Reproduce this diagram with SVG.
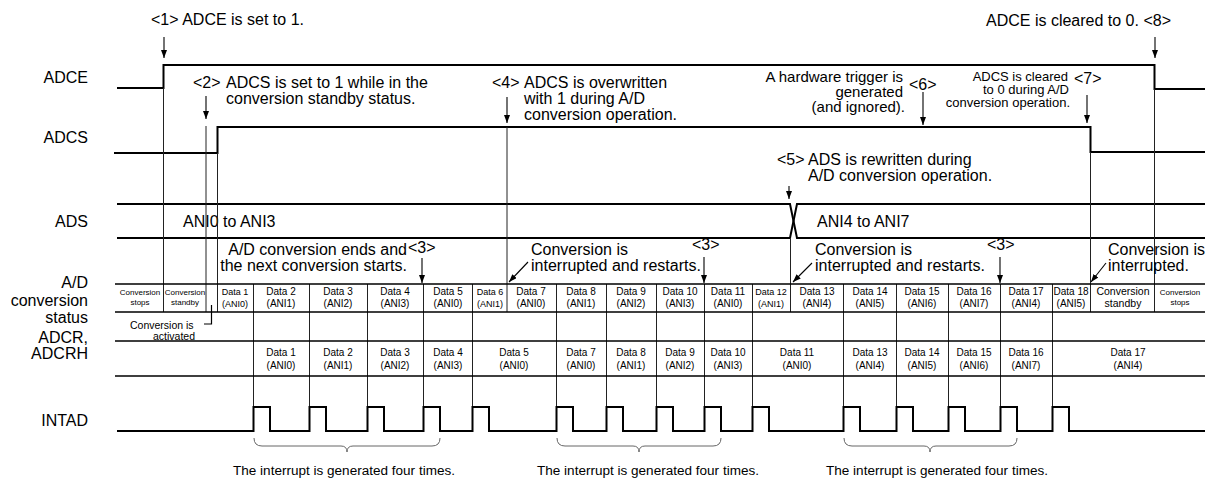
<svg xmlns="http://www.w3.org/2000/svg" width="1205" height="479" viewBox="0 0 1205 479">
<defs>
<marker id="ah" viewBox="0 0 8 6" refX="8" refY="3" markerWidth="8" markerHeight="6" markerUnits="userSpaceOnUse" orient="auto">
<path d="M0,0 L8,3 L0,6 z" fill="#000"/>
</marker>
</defs>
<style>
text{font-family:"Liberation Sans",Arial,sans-serif;fill:#000}
.t16{font-size:16px}
.t15{font-size:15px}
.t13{font-size:13px}
.t11{font-size:11px}
.t10{font-size:10px}
.t9{font-size:9px}
.t8{font-size:8px}
.e{text-anchor:end}
.m{text-anchor:middle}
.sig{fill:none;stroke:#000;stroke-width:2}
.row{fill:none;stroke:#000;stroke-width:1.4}
.v{fill:none;stroke:#222;stroke-width:1}
.arr{fill:none;stroke:#000;stroke-width:1.1;marker-end:url(#ah)}
.br{fill:none;stroke:#666;stroke-width:1}
.bt{font-size:12.5px}
</style>
<rect width="1205" height="479" fill="#fff"/>

<g id="labels" class="t16">
<text x="88" y="83" class="e">ADCE</text>
<text x="88" y="143" class="e">ADCS</text>
<text x="88" y="227" class="e">ADS</text>
<text x="88" y="288" class="e">A/D</text>
<text x="88" y="306" class="e">conversion</text>
<text x="88" y="323" class="e">status</text>
<text x="88" y="343" class="e">ADCR,</text>
<text x="88" y="359" class="e">ADCRH</text>
<text x="88" y="426" class="e">INTAD</text>
</g>

<g id="adce">
<path class="sig" d="M117,88 H163.5 V65 H1154.5 V89 H1205"/>
</g>
<g id="adcs">
<path class="sig" d="M114,153 H217.5 V127 H1090.5 V152 H1205"/>
</g>
<g id="ads">
<path class="sig" d="M117,204 H790 L797,238 H1205"/>
<path class="sig" d="M117,238 H790 L797,204 H1205"/>
<text x="183" y="227" class="t16">ANI0 to ANI3</text>
<text x="817" y="227" class="t16">ANI4 to ANI7</text>
</g>

<g id="verticals">
<path class="v" d="M163.5,88 V312 M206,126 V312 M217.5,153 V312 M507,127 V312 M790.5,238 V312 M1090.5,152 V312 M1154.5,89 V312"/>
<path class="v" d="M253.5,284 V407 M309.5,284 V407 M367.5,284 V407 M423.5,284 V407 M472.5,284 V407 M556.5,284 V407 M606.5,284 V407 M656.5,284 V407 M704.5,284 V407 M752.5,284 V407 M843.5,284 V407 M896.5,284 V407 M948.5,284 V407 M1000.5,284 V407 M1052.5,284 V407"/>
</g>

<g id="status">
<path class="row" d="M115,284 H1205 M115,312 H1205"/>
<g class="t8 m">
<text x="140" y="294.5">Conversion</text><text x="140" y="305">stops</text>
<text x="185" y="294.5">Conversion</text><text x="185" y="305">standby</text>
<text x="1180" y="294.5">Conversion</text><text x="1180" y="305">stops</text>
</g>
<g class="t9 m">
<text x="235" y="295">Data 1</text><text x="235" y="307">(ANI0)</text>
<text x="490" y="295">Data 6</text><text x="490" y="307">(ANI1)</text>
<text x="771" y="295">Data 12</text><text x="771" y="307">(ANI1)</text>
</g>
<g class="t10 m">
<text x="281" y="295">Data 2</text><text x="281" y="307">(ANI1)</text>
<text x="338" y="295">Data 3</text><text x="338" y="307">(ANI2)</text>
<text x="395" y="295">Data 4</text><text x="395" y="307">(ANI3)</text>
<text x="448" y="295">Data 5</text><text x="448" y="307">(ANI0)</text>
<text x="531" y="295">Data 7</text><text x="531" y="307">(ANI0)</text>
<text x="581" y="295">Data 8</text><text x="581" y="307">(ANI1)</text>
<text x="631" y="295">Data 9</text><text x="631" y="307">(ANI2)</text>
<text x="680" y="295">Data 10</text><text x="680" y="307">(ANI3)</text>
<text x="728" y="295">Data 11</text><text x="728" y="307">(ANI0)</text>
<text x="817" y="295">Data 13</text><text x="817" y="307">(ANI4)</text>
<text x="870" y="295">Data 14</text><text x="870" y="307">(ANI5)</text>
<text x="922" y="295">Data 15</text><text x="922" y="307">(ANI6)</text>
<text x="974" y="295">Data 16</text><text x="974" y="307">(ANI7)</text>
<text x="1026" y="295">Data 17</text><text x="1026" y="307">(ANI4)</text>
<text x="1071" y="295">Data 18</text><text x="1071" y="307">(ANI5)</text>
</g>
<g style="font-size:10.5px" class="m">
<text x="1123" y="295">Conversion</text><text x="1123" y="307">standby</text>
</g>
</g>

<g id="activated">
<text x="130" y="329" style="font-size:10.5px">Conversion is</text>
<text x="153" y="340" style="font-size:10.5px">activated</text>
<path d="M204,324 H211.5 V305" fill="none" stroke="#000" stroke-width="1.2"/>
</g>

<g id="adcr">
<path class="row" d="M115,341 H1205 M115,376 H1205"/>
<g class="t10 m">
<text x="281" y="355.5">Data 1</text><text x="281" y="368.5">(ANI0)</text>
<text x="338" y="355.5">Data 2</text><text x="338" y="368.5">(ANI1)</text>
<text x="395" y="355.5">Data 3</text><text x="395" y="368.5">(ANI2)</text>
<text x="448" y="355.5">Data 4</text><text x="448" y="368.5">(ANI3)</text>
<text x="514" y="355.5">Data 5</text><text x="514" y="368.5">(ANI0)</text>
<text x="581" y="355.5">Data 7</text><text x="581" y="368.5">(ANI0)</text>
<text x="631" y="355.5">Data 8</text><text x="631" y="368.5">(ANI1)</text>
<text x="680" y="355.5">Data 9</text><text x="680" y="368.5">(ANI2)</text>
<text x="728" y="355.5">Data 10</text><text x="728" y="368.5">(ANI3)</text>
<text x="797" y="355.5">Data 11</text><text x="797" y="368.5">(ANI0)</text>
<text x="870" y="355.5">Data 13</text><text x="870" y="368.5">(ANI4)</text>
<text x="922" y="355.5">Data 14</text><text x="922" y="368.5">(ANI5)</text>
<text x="974" y="355.5">Data 15</text><text x="974" y="368.5">(ANI6)</text>
<text x="1026" y="355.5">Data 16</text><text x="1026" y="368.5">(ANI7)</text>
<text x="1128" y="355.5">Data 17</text><text x="1128" y="368.5">(ANI4)</text>
</g>
</g>

<g id="intad">
<path class="sig" d="M117,431 H253.5 V407 H270 V431 H309.5 V407 H326 V431 H367.5 V407 H384 V431 H423.5 V407 H440 V431 H472.5 V407 H489 V431 H556.5 V407 H573 V431 H606.5 V407 H623 V431 H656.5 V407 H673 V431 H704.5 V407 H721 V431 H752.5 V407 H769 V431 H843.5 V407 H860 V431 H896.5 V407 H913 V431 H948.5 V407 H965 V431 H1000.5 V407 H1017 V431 H1052.5 V407 H1069 V431 H1205"/>
</g>

<g id="braces">
<path class="br" d="M254,438 Q254,446 262,446 H341 Q347,446 347,452 Q347,446 353,446 H432 Q440,446 440,438"/>
<path class="br" d="M557,438 Q557,446 565,446 H633 Q639,446 639,452 Q639,446 645,446 H713 Q721,446 721,438"/>
<path class="br" d="M844,438 Q844,446 852,446 H924 Q930,446 930,452 Q930,446 936,446 H1009 Q1017,446 1017,438"/>
<text x="233" y="475" class="bt" textLength="222" lengthAdjust="spacingAndGlyphs">The interrupt is generated four times.</text>
<text x="537" y="475" class="bt" textLength="222" lengthAdjust="spacingAndGlyphs">The interrupt is generated four times.</text>
<text x="826" y="475" class="bt" textLength="222" lengthAdjust="spacingAndGlyphs">The interrupt is generated four times.</text>
</g>

<g id="notes" class="t16">
<text x="151" y="25">&lt;1&gt; ADCE is set to 1.</text>
<text x="986" y="26">ADCE is cleared to 0. &lt;8&gt;</text>
<text x="193" y="88">&lt;2&gt;</text>
<text x="226" y="88">ADCS is set to 1 while in the</text>
<text x="226" y="104">conversion standby status.</text>
<text x="492" y="88">&lt;4&gt;</text>
<text x="524" y="88">ADCS is overwritten</text>
<text x="524" y="104">with 1 during A/D</text>
<text x="524" y="120">conversion operation.</text>
<text x="903" y="82" class="t15 e">A hardware trigger is</text>
<text x="903" y="97" class="t15 e">generated</text>
<text x="905" y="112" class="t15 e">(and ignored).</text>
<text x="909" y="90">&lt;6&gt;</text>
<text x="1068" y="81" class="t13 e">ADCS is cleared</text>
<text x="1069" y="94" class="t13 e">to 0 during A/D</text>
<text x="1070" y="107" class="t13 e">conversion operation.</text>
<text x="1074" y="84">&lt;7&gt;</text>
<text x="777" y="165">&lt;5&gt;</text>
<text x="808" y="165">ADS is rewritten during</text>
<text x="808" y="181">A/D conversion operation.</text>
<text x="407" y="255" class="e">A/D conversion ends and</text>
<text x="407" y="271" class="e">the next conversion starts.</text>
<text x="408" y="253">&lt;3&gt;</text>
<text x="531" y="255">Conversion is</text>
<text x="531" y="271">interrupted and restarts.</text>
<text x="692" y="250">&lt;3&gt;</text>
<text x="815" y="255">Conversion is</text>
<text x="815" y="271">interrupted and restarts.</text>
<text x="987" y="250">&lt;3&gt;</text>
<text x="1108" y="255">Conversion is</text>
<text x="1108" y="271">interrupted.</text>
</g>

<g id="connectors">
<path class="arr" d="M164,37 V58"/>
<path class="arr" d="M1155,37 V58"/>
<path class="arr" d="M206,96 V119"/>
<path class="arr" d="M507,97 V123"/>
<path class="arr" d="M923,92 V125"/>
<path class="arr" d="M1087,95 V123"/>
<path class="arr" d="M789,186 V199"/>
<path class="arr" d="M422,258 V283"/>
<path class="arr" d="M704,257 V283"/>
<path class="arr" d="M1000,257 V283"/>
<path class="arr" d="M528,262 L509,282"/>
<path class="arr" d="M812,263 L793,282"/>
<path class="arr" d="M1106,263 L1091,282"/>
</g>
</svg>
